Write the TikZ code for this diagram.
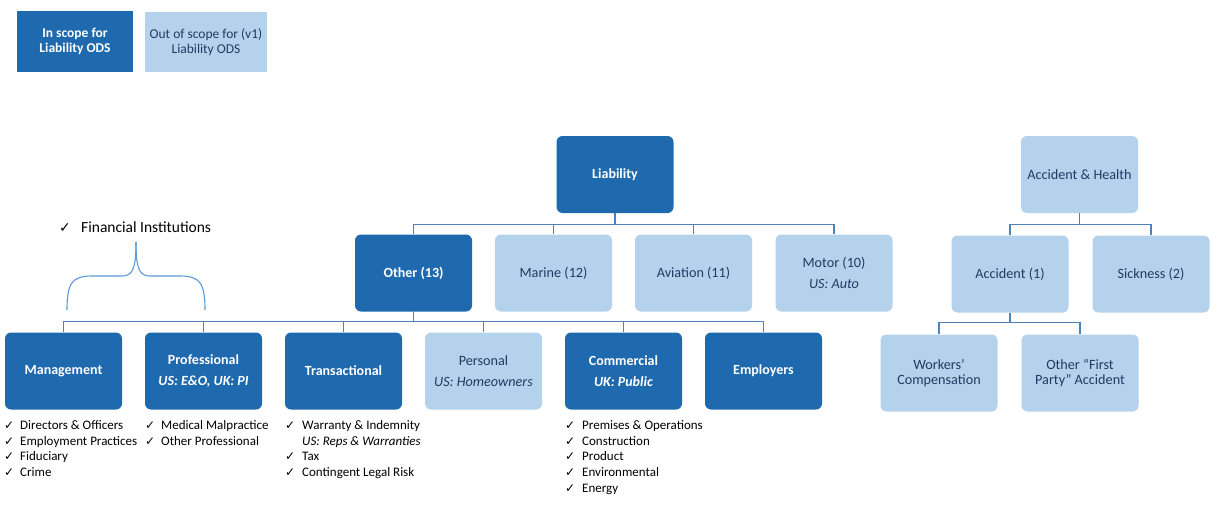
\documentclass[tikz,border=0pt]{standalone}
\usepackage{fontspec}
\setmainfont{Carlito}
\newfontfamily\checkfont{DejaVu Sans}
\usetikzlibrary{positioning}

\definecolor{inblue}{HTML}{1F69AE}
\definecolor{outblue}{HTML}{B4D2EB}
\definecolor{navytext}{HTML}{1F3B63}
\definecolor{linkblue}{HTML}{4F81BD}
\definecolor{braceblue}{HTML}{5B9BD5}

\newcommand{\chk}{{\checkfont\fontsize{12}{12}\selectfont ✓}}

\tikzset{
  box/.style={rounded corners=6pt, minimum width=117pt, minimum height=77pt,
    inner sep=2pt, align=center, font=\fontsize{14.2}{15.5}\selectfont},
  inbox/.style={box, fill=inblue, text=white, font=\fontsize{14}{15.5}\selectfont\bfseries},
  outbox/.style={box, fill=outblue, text=navytext},
  link/.style={draw=linkblue, line width=1.3pt},
  checklist/.style={anchor=north west, inner sep=0pt, align=left,
    font=\fontsize{13}{15.8}\selectfont}
}

\begin{document}
\begin{tikzpicture}[x=1pt, y=-1pt]
    \useasboundingbox[fill=white] (0,0) rectangle (1217,506);
    % legend
    \node[inbox, minimum width=116pt, minimum height=61pt, rounded corners=0pt,
      font=\fontsize{13.5}{15}\selectfont\bfseries] (legin) at (75,41.5) {In scope for\\Liability ODS};
    \node[outbox, minimum width=122pt, minimum height=60pt, rounded corners=0pt,
      font=\fontsize{13.5}{15}\selectfont] (legout) at (206,42) {Out of scope for (v1)\\Liability ODS};
    % liability tree
    \node[inbox] (liab) at (615,174.5) {Liability};
    \node[inbox] (other) at (413.5,273) {Other (13)};
    \node[outbox] (marine) at (553.5,273) {Marine (12)};
    \node[outbox] (aviation) at (693.5,273) {Aviation (11)};
    \node[outbox] (motor) at (834,273) {Motor (10)\\[6pt]\textit{US: Auto}};
    \node[inbox] (mgmt) at (63.5,371) {Management};
    \node[inbox] (prof) at (203.5,371) {Professional\\[6pt]\textit{US: E\&O, UK: PI}};
    \node[inbox] (trans) at (343.5,371) {Transactional};
    \node[outbox] (pers) at (483.5,371) {Personal\\[6pt]\textit{US: Homeowners}};
    \node[inbox] (comm) at (623.5,371) {Commercial\\[6pt]\textit{UK: Public}};
    \node[inbox] (empl) at (763.5,371) {Employers};
    % accident & health tree
    \node[outbox] (ah) at (1079.5,174.5) {Accident \& Health};
    \node[outbox] (acc) at (1010,274) {Accident (1)};
    \node[outbox] (sick) at (1151,274) {Sickness (2)};
    \node[outbox] (wc) at (939,373) {Workers’\\Compensation};
    \node[outbox] (ofpa) at (1080,373) {Other “First\\Party” Accident};
    \draw[link] (liab.south) -- ++(0,11) -| (other.north);
    \draw[link] (liab.south) -- ++(0,11) -| (marine.north);
    \draw[link] (liab.south) -- ++(0,11) -| (aviation.north);
    \draw[link] (liab.south) -- ++(0,11) -| (motor.north);
    \draw[link] (other.south) -- ++(0,10) -| (mgmt.north);
    \draw[link] (other.south) -- ++(0,10) -| (prof.north);
    \draw[link] (other.south) -- ++(0,10) -| (trans.north);
    \draw[link] (other.south) -- ++(0,10) -| (pers.north);
    \draw[link] (other.south) -- ++(0,10) -| (comm.north);
    \draw[link] (other.south) -- ++(0,10) -| (empl.north);
    \draw[link] (ah.south) -- ++(0,11) -| (acc.north);
    \draw[link] (ah.south) -- ++(0,11) -| (sick.north);
    \draw[link] (acc.south) -- ++(0,10) -| (wc.north);
    \draw[link] (acc.south) -- ++(0,10) -| (ofpa.north);
    % financial institutions brace
    \node[anchor=west, inner sep=0pt, font=\fontsize{15.5}{18}\selectfont] (finst) at (59,227)
      {\makebox[22pt][l]{\checkfont\fontsize{14}{14}\selectfont ✓}Financial Institutions};
    \coordinate (bracetip) at (136,242);
    \draw[braceblue, line width=1.1pt] (67,310) .. controls (67,283) and (72,276) .. (92,276)
      -- (122,276) .. controls (133,276) and (136,268) .. (bracetip);
    \draw[braceblue, line width=1.1pt] (205,310) .. controls (205,283) and (200,276) .. (180,276)
      -- (150,276) .. controls (139,276) and (136,268) .. (bracetip);
    % check lists
    \node[checklist] (mgmtlist) at (4,418) {\begin{tabular}{@{}p{16pt}@{}l@{}}
      \chk & Directors \& Officers\\
      \chk & Employment Practices\\
      \chk & Fiduciary\\
      \chk & Crime
    \end{tabular}};
    \node[checklist] (proflist) at (145,418) {\begin{tabular}{@{}p{16pt}@{}l@{}}
      \chk & Medical Malpractice\\
      \chk & Other Professional
    \end{tabular}};
    \node[checklist] (translist) at (285,418) {\begin{tabular}{@{}p{17pt}@{}l@{}}
      \chk & Warranty \& Indemnity\\
           & \textit{US: Reps \& Warranties}\\
      \chk & Tax\\
      \chk & Contingent Legal Risk
    \end{tabular}};
    \node[checklist] (commlist) at (565,418) {\begin{tabular}{@{}p{17pt}@{}l@{}}
      \chk & Premises \& Operations\\
      \chk & Construction\\
      \chk & Product\\
      \chk & Environmental\\
      \chk & Energy
    \end{tabular}};
  \end{tikzpicture}
\end{document}
